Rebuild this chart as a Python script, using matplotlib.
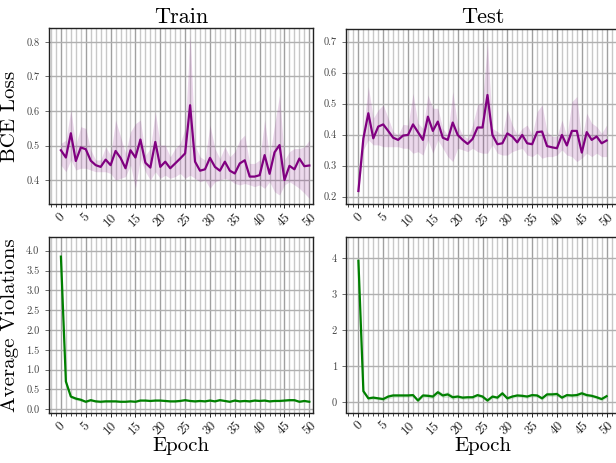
import numpy as np
import matplotlib
matplotlib.use("Agg")
import matplotlib.pyplot as plt
from matplotlib.ticker import MultipleLocator

plt.rcParams['font.family'] = 'serif'
plt.rcParams['font.serif'] = ['cmr10', 'DejaVu Serif']
plt.rcParams['axes.formatter.use_mathtext'] = True
plt.rcParams['mathtext.fontset'] = 'cm'

epochs = list(range(51))

train_bce = [0.487, 0.466, 0.536, 0.456, 0.495, 0.490, 0.457, 0.444, 0.439, 0.460,
             0.444, 0.485, 0.465, 0.435, 0.487, 0.466, 0.518, 0.451, 0.437, 0.511,
             0.439, 0.454, 0.435, 0.449, 0.463, 0.478, 0.617, 0.454, 0.428, 0.432,
             0.465, 0.439, 0.428, 0.454, 0.428, 0.420, 0.449, 0.458, 0.411, 0.411,
             0.415, 0.473, 0.419, 0.481, 0.502, 0.401, 0.442, 0.432, 0.463, 0.441,
             0.443]
train_bce_hi = [0.507, 0.516, 0.603, 0.502, 0.555, 0.550, 0.488, 0.459, 0.459, 0.497,
                0.473, 0.574, 0.526, 0.478, 0.540, 0.564, 0.574, 0.473, 0.492, 0.598,
                0.502, 0.502, 0.468, 0.492, 0.507, 0.550, 0.819, 0.502, 0.468, 0.459,
                0.560, 0.492, 0.463, 0.497, 0.468, 0.483, 0.516, 0.531, 0.449, 0.449,
                0.459, 0.574, 0.468, 0.560, 0.646, 0.459, 0.483, 0.492, 0.492, 0.497,
                0.516]
train_bce_lo = [0.444, 0.425, 0.459, 0.430, 0.435, 0.435, 0.430, 0.425, 0.425, 0.425,
                0.420, 0.401, 0.406, 0.411, 0.444, 0.377, 0.463, 0.425, 0.401, 0.425,
                0.406, 0.415, 0.406, 0.411, 0.420, 0.406, 0.415, 0.406, 0.396, 0.401,
                0.377, 0.396, 0.401, 0.406, 0.401, 0.391, 0.387, 0.391, 0.387, 0.382,
                0.387, 0.377, 0.396, 0.367, 0.358, 0.387, 0.396, 0.387, 0.377, 0.363,
                0.348]

test_bce = [0.218, 0.388, 0.469, 0.388, 0.426, 0.433, 0.412, 0.390, 0.383, 0.397,
            0.399, 0.433, 0.408, 0.383, 0.458, 0.412, 0.442, 0.390, 0.383, 0.439,
            0.399, 0.383, 0.370, 0.386, 0.423, 0.423, 0.528, 0.399, 0.369, 0.372,
            0.404, 0.394, 0.375, 0.399, 0.372, 0.369, 0.408, 0.410, 0.363, 0.359,
            0.356, 0.399, 0.365, 0.412, 0.412, 0.342, 0.408, 0.383, 0.394, 0.372,
            0.381]
test_bce_hi = [0.226, 0.420, 0.555, 0.453, 0.480, 0.496, 0.453, 0.410, 0.399, 0.433,
               0.431, 0.533, 0.437, 0.420, 0.528, 0.485, 0.485, 0.420, 0.399, 0.539,
               0.431, 0.399, 0.388, 0.431, 0.496, 0.506, 0.700, 0.420, 0.410, 0.399,
               0.480, 0.431, 0.399, 0.420, 0.431, 0.399, 0.474, 0.496, 0.410, 0.394,
               0.394, 0.447, 0.394, 0.506, 0.523, 0.383, 0.469, 0.437, 0.426, 0.404,
               0.431]
test_bce_lo = [0.212, 0.351, 0.383, 0.367, 0.367, 0.361, 0.361, 0.361, 0.361, 0.356,
               0.356, 0.340, 0.345, 0.334, 0.383, 0.340, 0.383, 0.356, 0.329, 0.313,
               0.356, 0.351, 0.345, 0.356, 0.345, 0.340, 0.340, 0.367, 0.340, 0.334,
               0.334, 0.345, 0.351, 0.356, 0.334, 0.329, 0.340, 0.324, 0.329, 0.329,
               0.334, 0.351, 0.334, 0.329, 0.313, 0.324, 0.340, 0.329, 0.340, 0.329,
               0.329]

train_viol = [3.85, 0.70, 0.32, 0.27, 0.24, 0.19, 0.23, 0.20, 0.19, 0.20,
              0.20, 0.20, 0.19, 0.19, 0.20, 0.19, 0.22, 0.22, 0.21, 0.22,
              0.22, 0.21, 0.20, 0.20, 0.21, 0.23, 0.21, 0.20, 0.21, 0.20,
              0.22, 0.20, 0.23, 0.21, 0.19, 0.22, 0.20, 0.21, 0.20, 0.22,
              0.21, 0.22, 0.20, 0.21, 0.21, 0.22, 0.23, 0.23, 0.19, 0.21,
              0.19]
train_viol_sd = [0.02, 0.04, 0.04, 0.04, 0.04, 0.03, 0.03, 0.03, 0.03, 0.03,
                 0.03, 0.02, 0.02, 0.02, 0.02, 0.02, 0.02, 0.02, 0.02, 0.02,
                 0.02, 0.02, 0.02, 0.03, 0.02, 0.02, 0.02, 0.03, 0.02, 0.02,
                 0.02, 0.02, 0.02, 0.02, 0.02, 0.02, 0.02, 0.02, 0.03, 0.02,
                 0.02, 0.02, 0.02, 0.02, 0.02, 0.03, 0.03, 0.03, 0.02, 0.02,
                 0.02]

test_viol = [3.93, 0.31, 0.11, 0.13, 0.11, 0.09, 0.16, 0.19, 0.19, 0.19,
             0.19, 0.20, 0.05, 0.19, 0.18, 0.16, 0.28, 0.19, 0.22, 0.14,
             0.16, 0.13, 0.14, 0.14, 0.20, 0.16, 0.05, 0.16, 0.13, 0.25,
             0.11, 0.16, 0.19, 0.18, 0.16, 0.20, 0.19, 0.11, 0.22, 0.22,
             0.23, 0.13, 0.20, 0.19, 0.20, 0.25, 0.20, 0.18, 0.14, 0.09,
             0.17]
test_viol_sd = [0.02, 0.05, 0.05, 0.05, 0.04, 0.05, 0.06, 0.06, 0.05, 0.05,
                0.05, 0.05, 0.04, 0.05, 0.06, 0.06, 0.07, 0.06, 0.08, 0.06,
                0.05, 0.05, 0.05, 0.05, 0.05, 0.05, 0.04, 0.05, 0.05, 0.05,
                0.05, 0.05, 0.05, 0.05, 0.05, 0.05, 0.05, 0.05, 0.06, 0.06,
                0.06, 0.05, 0.05, 0.05, 0.06, 0.06, 0.05, 0.05, 0.05, 0.05,
                0.05]

col_titles = ["Train", "Test"]
row_labels = ["BCE Loss", "Average Violations"]
xtick_vals = list(range(0, 51, 5))

W, H = 616, 463
fig = plt.figure(figsize=(W / 100, H / 100), dpi=100)

def ax_at(l, r, t, b):
    return fig.add_axes([l / W, 1 - b / H, (r - l) / W, (b - t) / H])

ax_tl = ax_at(48.5, 313.3, 28.3, 204.3)
ax_tr = ax_at(346.0, 619.0, 29.0, 204.0)
ax_bl = ax_at(48.5, 313.3, 236.7, 412.7)
ax_br = ax_at(346.0, 619.0, 236.7, 412.5)

purple = '#800080'
green = '#008000'

def style(ax, xlim, ylim, ystep):
    ax.set_xlim(*xlim)
    ax.set_ylim(*ylim)
    ax.xaxis.set_major_locator(MultipleLocator(5))
    ax.xaxis.set_minor_locator(MultipleLocator(1))
    ax.yaxis.set_major_locator(MultipleLocator(ystep))
    ax.set_xticks(xtick_vals)
    ax.set_xticklabels([str(v) for v in xtick_vals], rotation=45, fontsize=9.5, color='#222222')
    ax.tick_params(axis='y', labelsize=7.5, labelcolor='#444444', length=3, width=0.6, color='#555555')
    ax.tick_params(axis='x', which='major', length=3, width=0.6, pad=2)
    ax.tick_params(axis='x', which='minor', length=2, width=0.5)
    ax.grid(True, which='major', axis='x', color='#a0a0a0', linewidth=1.0)
    ax.grid(True, which='minor', axis='x', color='#c8c8c8', linewidth=1.0)
    ax.grid(True, which='major', axis='y', color='#b0b0b0', linewidth=1.0)
    ax.set_axisbelow(True)
    for s in ax.spines.values():
        s.set_color('#222222')
        s.set_linewidth(1.0)

# Train BCE
ax_tl.fill_between(epochs, train_bce_lo, train_bce_hi, color=purple, alpha=0.15, linewidth=0)
ax_tl.plot(epochs, train_bce, color=purple, linewidth=1.6)
style(ax_tl, (-2.5, 50.8), (0.331, 0.839), 0.1)
ax_tl.set_yticks([0.4, 0.5, 0.6, 0.7, 0.8])
ax_tl.set_yticklabels(['0.4', '0.5', '0.6', '0.7', '0.8'])

# Test BCE
ax_tr.fill_between(epochs, test_bce_lo, test_bce_hi, color=purple, alpha=0.15, linewidth=0)
ax_tr.plot(epochs, test_bce, color=purple, linewidth=1.6)
style(ax_tr, (-2.5, 52.5), (0.176, 0.741), 0.1)
ax_tr.set_yticks([0.2, 0.3, 0.4, 0.5, 0.6, 0.7])
ax_tr.set_yticklabels(['0.2', '0.3', '0.4', '0.5', '0.6', '0.7'])

# Train violations
tv = np.array(train_viol); tvs = np.array(train_viol_sd)
ax_bl.fill_between(epochs, tv - tvs, tv + tvs, color=green, alpha=0.15, linewidth=0)
ax_bl.plot(epochs, train_viol, color=green, linewidth=1.6)
style(ax_bl, (-2.5, 50.8), (-0.086, 4.353), 0.5)
ax_bl.set_yticks([0.0, 0.5, 1.0, 1.5, 2.0, 2.5, 3.0, 3.5, 4.0])
ax_bl.set_yticklabels(['0.0', '0.5', '1.0', '1.5', '2.0', '2.5', '3.0', '3.5', '4.0'])

# Test violations
sv = np.array(test_viol); svs = np.array(test_viol_sd)
ax_br.fill_between(epochs, sv - svs, sv + svs, color=green, alpha=0.15, linewidth=0)
ax_br.plot(epochs, test_viol, color=green, linewidth=1.6)
style(ax_br, (-2.5, 52.5), (-0.283, 4.6), 1)
ax_br.set_yticks([0, 1, 2, 3, 4])
ax_br.set_yticklabels(['0', '1', '2', '3', '4'])

ax_tl.set_title(col_titles[0], fontsize=16, pad=4)
ax_tr.set_title(col_titles[1], fontsize=16, pad=4)
ax_tl.set_ylabel(row_labels[0], fontsize=15, labelpad=5)
ax_bl.set_ylabel(row_labels[1], fontsize=15, labelpad=5)
ax_bl.set_xlabel("Epoch", fontsize=15, labelpad=0)
ax_br.set_xlabel("Epoch", fontsize=15, labelpad=0)

fig.savefig("out.png", dpi=100)
